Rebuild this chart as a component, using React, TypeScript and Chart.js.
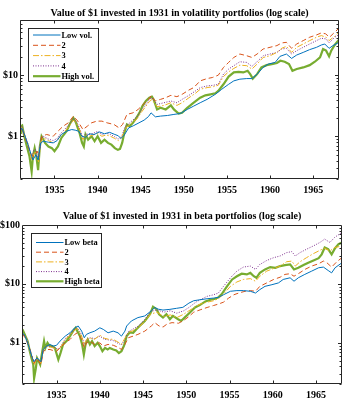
import React, { useEffect, useRef } from 'react';
import { Chart, registerables } from 'chart.js';

Chart.register(...registerables);

// ---------- data ----------
const X_MIN = 1931;
const X_MAX = 1968;
const YEAR_TICKS = [1935, 1940, 1945, 1950, 1955, 1960, 1965];
const DOLLAR_TICKS = [1, 10, 100];
const VOL_Y_RANGE = [0.2, 80];
const BETA_Y_RANGE = [0.2, 100];

const VOL_TITLE = 'Value of $1 invested in 1931 in volatility portfolios (log scale)';
const BETA_TITLE = 'Value of $1 invested in 1931 in beta portfolios (log scale)';
const VOL_LABELS = ['Low vol.', '2', '3', '4', 'High vol.'];
const BETA_LABELS = ['Low beta', '2', '3', '4', 'High beta'];

type P = [number, number];

const volLow: P[] = [[1931.0,1.21],[1931.2,1.37],[1931.6,1.0],[1932.0,0.68],[1932.35,0.47],[1932.5,0.41],[1932.85,0.5],[1933.1,0.41],[1933.4,0.78],[1933.7,0.83],[1934.3,0.8],[1934.85,0.78],[1935.3,0.85],[1935.8,1.07],[1936.4,1.21],[1937.0,1.29],[1937.4,1.26],[1937.8,1.21],[1938.2,1.0],[1938.6,0.96],[1939.0,1.1],[1939.6,1.07],[1940.2,1.18],[1940.8,1.1],[1941.4,1.16],[1942.0,1.07],[1942.4,1.02],[1942.7,0.92],[1943.1,1.05],[1943.6,1.37],[1944.2,1.5],[1944.8,1.66],[1945.4,1.84],[1945.9,2.1],[1946.2,2.42],[1946.7,2.08],[1947.3,2.14],[1948.1,2.19],[1948.85,2.28],[1949.6,2.36],[1950.4,2.75],[1951.15,3.12],[1951.9,3.54],[1952.7,4.02],[1953.65,4.86],[1954.4,5.88],[1955.2,7.1],[1955.8,8.07],[1956.5,8.6],[1957.3,8.8],[1957.9,8.8],[1958.5,10.4],[1959.2,13.4],[1959.8,15.2],[1960.6,16.2],[1961.15,20.3],[1961.9,22.2],[1962.5,18.8],[1963.1,21.4],[1963.85,23.6],[1964.6,26.2],[1965.4,28.6],[1965.95,31.2],[1966.35,32.4],[1966.85,27.5],[1967.3,30.5],[1968.0,34.5]];

const vol2: P[] = [[1931.0,1.14],[1931.2,1.37],[1931.8,0.78],[1932.2,0.53],[1932.6,0.47],[1933.0,0.57],[1933.2,0.47],[1933.5,1.0],[1934.1,1.07],[1934.85,1.0],[1935.4,1.21],[1936.0,1.46],[1936.6,1.66],[1937.2,2.14],[1937.7,1.77],[1938.3,1.29],[1938.8,1.46],[1939.3,1.66],[1939.9,1.77],[1940.5,1.77],[1941.1,1.66],[1941.9,1.56],[1942.5,1.37],[1942.9,1.56],[1943.4,2.28],[1944.1,2.42],[1944.7,2.75],[1945.3,3.33],[1945.9,4.02],[1946.2,4.6],[1946.7,3.78],[1947.3,4.02],[1947.9,4.28],[1948.5,4.68],[1949.2,4.45],[1949.8,4.86],[1950.6,5.73],[1951.15,6.26],[1951.9,8.07],[1952.7,8.8],[1953.3,9.15],[1954.0,10.0],[1954.6,13.4],[1955.2,16.2],[1955.8,19.5],[1956.5,22.2],[1957.3,20.8],[1957.9,19.5],[1958.5,22.2],[1959.2,26.8],[1960.0,28.6],[1960.8,30.5],[1961.35,33.7],[1961.9,34.5],[1962.5,27.5],[1963.1,32.4],[1963.85,36.8],[1964.6,41.8],[1965.4,45.6],[1965.95,49.2],[1966.45,47.5],[1966.9,41.8],[1967.5,50.5],[1968.0,58.8]];

const vol3: P[] = [[1931.0,1.15],[1931.2,1.45],[1931.6,1.0],[1932.0,0.68],[1932.35,0.4],[1932.6,0.52],[1932.85,0.55],[1933.15,0.38],[1933.4,0.8],[1933.7,0.95],[1934.3,0.85],[1934.85,0.78],[1935.3,0.85],[1935.8,1.07],[1936.4,1.3],[1936.9,1.6],[1937.2,1.85],[1937.6,1.6],[1938.0,1.2],[1938.3,0.88],[1938.6,1.05],[1939.0,1.0],[1939.5,1.05],[1940.0,1.12],[1940.5,1.0],[1941.0,1.05],[1941.5,1.0],[1942.0,0.92],[1942.4,0.85],[1942.8,0.95],[1943.2,1.35],[1943.6,1.5],[1944.1,1.7],[1944.6,1.95],[1945.1,2.5],[1945.6,3.1],[1946.0,3.7],[1946.3,4.0],[1946.9,3.05],[1947.7,3.2],[1948.5,3.54],[1949.2,3.2],[1949.8,3.54],[1950.6,4.28],[1951.35,5.05],[1951.9,5.88],[1952.7,6.26],[1953.45,6.5],[1954.0,6.85],[1954.6,9.5],[1955.2,11.35],[1955.8,12.9],[1956.5,14.6],[1957.3,14.3],[1957.9,12.6],[1958.5,15.2],[1959.2,19.5],[1960.0,20.8],[1960.8,23.6],[1961.35,27.5],[1961.9,29.7],[1962.5,23.6],[1963.1,28.6],[1963.85,32.4],[1964.6,36.8],[1965.4,41.8],[1965.95,44.5],[1966.5,41.8],[1966.85,36.8],[1967.5,43.2],[1968.0,50.5]];

const vol4: P[] = [[1931.0,1.15],[1931.2,1.48],[1931.6,1.0],[1932.0,0.7],[1932.35,0.42],[1932.6,0.6],[1932.85,0.6],[1933.15,0.42],[1933.4,0.85],[1933.7,1.0],[1934.3,0.9],[1934.85,0.85],[1935.3,0.92],[1935.8,1.15],[1936.4,1.4],[1936.9,1.7],[1937.2,1.95],[1937.6,1.7],[1938.0,1.25],[1938.3,0.92],[1938.6,1.1],[1939.0,1.07],[1939.5,1.12],[1940.0,1.2],[1940.5,1.07],[1941.0,1.12],[1941.5,1.07],[1942.0,0.98],[1942.4,0.9],[1942.8,1.0],[1943.2,1.45],[1943.6,1.6],[1944.1,1.85],[1944.6,2.1],[1945.1,2.7],[1945.6,3.3],[1946.0,4.0],[1946.3,4.3],[1946.9,3.33],[1947.7,3.54],[1948.5,3.78],[1949.2,3.54],[1949.8,4.02],[1950.6,4.68],[1951.35,5.52],[1951.9,6.26],[1952.7,6.67],[1953.45,6.85],[1954.0,7.1],[1954.6,10.4],[1955.2,12.6],[1955.8,14.3],[1956.5,16.6],[1957.3,16.2],[1957.9,13.9],[1958.5,16.6],[1959.2,20.8],[1960.0,22.2],[1960.8,23.6],[1961.35,26.8],[1961.9,27.5],[1962.5,22.2],[1963.1,25.2],[1963.85,28.6],[1964.6,32.4],[1965.4,36.8],[1965.95,40.2],[1966.5,39.2],[1966.85,33.7],[1967.5,41.8],[1968.0,46.0]];

const volHigh: P[] = [[1931.0,1.14],[1931.1,1.46],[1931.25,1.5],[1931.5,1.0],[1931.8,0.68],[1932.1,0.47],[1932.35,0.265],[1932.5,0.47],[1932.7,0.64],[1932.9,0.47],[1933.1,0.28],[1933.3,0.68],[1933.5,1.0],[1933.9,0.78],[1934.3,0.68],[1934.7,0.64],[1935.0,0.57],[1935.4,0.68],[1935.8,0.94],[1936.4,1.21],[1936.85,1.66],[1937.2,2.0],[1937.5,1.66],[1937.9,1.14],[1938.2,0.78],[1938.4,0.68],[1938.6,1.07],[1938.9,0.88],[1939.3,1.0],[1939.65,0.83],[1940.0,1.0],[1940.4,0.78],[1940.8,0.88],[1941.2,0.78],[1941.6,0.73],[1942.0,0.64],[1942.35,0.6],[1942.6,0.62],[1942.85,0.78],[1943.1,1.14],[1943.4,1.56],[1943.7,1.46],[1944.1,1.66],[1944.5,2.0],[1944.85,2.42],[1945.2,3.12],[1945.6,3.78],[1946.0,4.28],[1946.3,4.45],[1946.5,4.02],[1946.9,2.75],[1947.3,2.93],[1947.9,2.75],[1948.5,3.2],[1948.85,2.75],[1949.4,2.36],[1949.8,2.42],[1950.4,2.93],[1951.15,3.54],[1951.9,4.28],[1952.5,4.68],[1953.1,4.86],[1953.65,5.05],[1954.0,5.52],[1954.6,7.1],[1955.2,9.5],[1955.8,11.1],[1956.35,11.35],[1956.9,11.1],[1957.4,11.8],[1957.7,10.4],[1958.0,8.8],[1958.5,10.4],[1959.0,13.4],[1959.6,14.6],[1960.2,15.2],[1960.8,15.8],[1961.2,17.2],[1961.7,16.6],[1962.2,15.2],[1962.6,11.8],[1963.1,12.6],[1963.85,13.4],[1964.6,14.6],[1965.2,16.6],[1965.8,19.5],[1966.15,26.8],[1966.5,25.2],[1966.85,20.3],[1967.1,25.2],[1967.5,31.2],[1968.0,38.2]];

const betaLow: P[] = [[1931.04,1.48],[1931.35,1.3],[1931.65,1.0],[1931.9,0.77],[1932.2,0.55],[1932.4,0.48],[1932.7,0.55],[1932.95,0.52],[1933.2,0.48],[1933.45,0.77],[1933.85,0.88],[1934.25,0.94],[1934.6,0.88],[1935.0,0.91],[1935.4,1.07],[1936.0,1.3],[1936.55,1.48],[1937.1,1.8],[1937.5,1.93],[1937.9,1.58],[1938.2,1.22],[1938.45,1.39],[1938.85,1.48],[1939.4,1.58],[1940.0,1.8],[1940.4,1.69],[1940.95,1.48],[1941.55,1.58],[1942.1,1.48],[1942.5,1.3],[1942.9,1.58],[1943.1,1.93],[1943.65,2.35],[1944.4,2.68],[1945.2,2.86],[1945.95,3.5],[1946.35,3.98],[1946.75,3.73],[1947.3,3.6],[1948.1,3.7],[1948.85,3.85],[1949.6,4.0],[1950.3,4.72],[1950.85,5.18],[1951.6,5.39],[1952.4,5.6],[1953.15,5.75],[1953.7,5.9],[1954.3,6.55],[1955.1,7.5],[1955.85,7.7],[1956.6,7.7],[1957.4,7.5],[1958.0,7.0],[1958.5,8.0],[1959.1,9.1],[1959.9,9.7],[1960.65,10.4],[1961.2,11.9],[1962.0,12.7],[1962.45,11.1],[1962.95,12.7],[1963.7,14.5],[1964.5,16.5],[1965.3,18.8],[1965.85,19.3],[1966.4,16.9],[1966.8,15.4],[1967.2,18.8],[1968.0,22.9]];

const beta2: P[] = [[1931.04,1.43],[1931.35,1.22],[1931.7,0.94],[1932.0,0.72],[1932.2,0.55],[1932.4,0.45],[1932.7,0.55],[1932.95,0.48],[1933.2,0.43],[1933.45,0.72],[1933.85,0.77],[1934.25,0.77],[1934.6,0.74],[1935.0,0.72],[1935.4,0.82],[1936.0,1.0],[1936.55,1.14],[1937.1,1.39],[1937.4,1.48],[1937.9,1.14],[1938.2,0.82],[1938.45,1.0],[1938.85,1.07],[1939.4,0.94],[1940.0,1.0],[1940.4,0.88],[1940.95,0.94],[1941.55,0.91],[1942.1,0.84],[1942.5,0.77],[1942.9,0.94],[1943.3,1.22],[1943.85,1.3],[1944.4,1.39],[1945.2,1.58],[1945.95,1.93],[1946.35,2.2],[1946.85,1.93],[1947.3,1.85],[1947.8,2.1],[1948.35,2.2],[1949.1,2.15],[1949.7,2.4],[1950.3,2.79],[1950.85,3.31],[1951.6,3.63],[1952.4,3.98],[1953.15,4.3],[1953.7,4.54],[1954.3,4.9],[1954.9,5.75],[1955.5,6.55],[1956.05,7.0],[1956.8,7.5],[1957.4,7.7],[1958.0,7.5],[1958.5,9.1],[1959.3,10.4],[1960.1,11.9],[1960.85,13.0],[1961.4,14.5],[1962.0,14.9],[1962.45,13.5],[1962.95,14.9],[1963.7,17.6],[1964.5,20.1],[1965.3,22.0],[1965.85,24.4],[1966.25,22.9],[1966.8,19.3],[1967.4,23.8],[1968.0,27.9]];

const beta3: P[] = [[1931.04,1.45],[1931.4,1.28],[1931.7,1.0],[1931.9,0.75],[1932.2,0.55],[1932.4,0.42],[1932.7,0.55],[1932.95,0.5],[1933.2,0.45],[1933.45,0.75],[1933.8,0.85],[1934.3,0.85],[1934.8,0.8],[1935.2,0.75],[1935.6,0.9],[1936.0,1.15],[1936.6,1.35],[1937.1,1.65],[1937.4,1.75],[1937.8,1.4],[1938.2,0.95],[1938.5,1.15],[1938.9,1.2],[1939.4,1.15],[1940.0,1.35],[1940.5,1.2],[1941.0,1.15],[1941.5,1.15],[1942.0,1.05],[1942.5,0.95],[1942.9,1.2],[1943.3,1.5],[1943.8,1.6],[1944.4,1.8],[1945.2,2.3],[1945.85,3.06],[1946.6,3.31],[1947.4,2.79],[1948.15,2.98],[1948.9,2.68],[1949.7,3.06],[1950.3,3.5],[1951.1,4.14],[1951.6,4.54],[1952.4,4.9],[1953.15,5.18],[1953.7,5.6],[1954.3,6.7],[1955.1,9.1],[1955.85,10.8],[1956.6,11.9],[1957.4,12.3],[1958.0,11.1],[1958.5,13.5],[1959.3,16.5],[1960.1,18.3],[1960.85,20.1],[1961.6,23.8],[1962.2,24.4],[1962.6,20.1],[1963.15,23.8],[1963.9,27.9],[1964.7,32.7],[1965.45,37.2],[1966.0,40.4],[1966.6,36.3],[1967.15,41.4],[1968.0,44.0]];

const beta4: P[] = [[1931.04,1.45],[1931.4,1.3],[1931.7,1.0],[1931.9,0.76],[1932.2,0.55],[1932.4,0.44],[1932.7,0.56],[1932.95,0.5],[1933.2,0.46],[1933.45,0.76],[1933.8,0.88],[1934.3,0.88],[1934.8,0.82],[1935.2,0.78],[1935.6,0.92],[1936.0,1.18],[1936.6,1.4],[1937.1,1.7],[1937.4,1.8],[1937.8,1.45],[1938.2,0.95],[1938.5,1.15],[1938.9,1.22],[1939.4,1.18],[1940.0,1.3],[1940.5,1.15],[1941.0,1.12],[1941.5,1.1],[1942.0,1.0],[1942.5,0.92],[1942.9,1.15],[1943.3,1.55],[1943.8,1.7],[1944.4,1.9],[1945.2,2.5],[1945.85,3.4],[1946.6,3.63],[1947.4,3.31],[1948.15,3.5],[1948.9,3.18],[1949.7,3.5],[1950.3,3.98],[1951.1,4.9],[1951.6,5.39],[1952.4,6.15],[1953.15,6.55],[1953.7,7.0],[1954.3,9.1],[1955.1,12.7],[1955.85,16.5],[1956.6,19.3],[1957.4,20.1],[1958.0,17.6],[1958.5,21.4],[1959.3,25.0],[1960.1,27.9],[1960.85,29.8],[1961.6,34.0],[1962.2,35.3],[1962.6,29.8],[1963.15,34.0],[1963.9,38.8],[1964.7,44.2],[1965.45,50.6],[1966.0,57.6],[1966.6,50.6],[1967.15,61.6],[1968.0,75.0]];

const betaHigh: P[] = [[1931.04,1.48],[1931.15,1.58],[1931.4,1.3],[1931.65,1.07],[1931.9,0.72],[1932.1,0.55],[1932.3,0.43],[1932.4,0.25],[1932.6,0.37],[1932.75,0.55],[1932.95,0.48],[1933.1,0.43],[1933.35,0.72],[1933.55,1.07],[1933.7,0.82],[1933.95,1.0],[1934.2,0.88],[1934.5,0.88],[1934.8,0.82],[1935.2,0.52],[1935.45,0.67],[1935.75,0.94],[1936.15,1.07],[1936.55,1.3],[1936.9,1.58],[1937.2,1.8],[1937.4,1.58],[1937.7,1.3],[1937.95,0.94],[1938.15,0.63],[1938.35,0.94],[1938.6,1.14],[1938.85,0.94],[1939.1,1.07],[1939.4,0.88],[1939.75,1.0],[1940.0,0.88],[1940.3,0.72],[1940.6,0.82],[1940.9,0.77],[1941.15,0.82],[1941.55,0.77],[1941.9,0.74],[1942.2,0.67],[1942.5,0.72],[1942.8,0.9],[1943.1,1.3],[1943.45,1.5],[1943.85,1.48],[1944.2,1.69],[1944.6,1.93],[1945.2,2.35],[1945.8,3.06],[1946.15,4.1],[1946.55,3.73],[1946.85,3.06],[1947.3,2.68],[1947.7,3.06],[1948.1,2.51],[1948.45,2.86],[1949.05,2.51],[1949.4,2.35],[1949.8,2.68],[1950.45,3.31],[1951.0,3.98],[1951.6,4.42],[1952.2,5.04],[1952.8,5.39],[1953.35,5.6],[1953.7,5.9],[1954.1,6.7],[1954.7,9.1],[1955.3,11.9],[1955.85,13.5],[1956.4,14.9],[1957.0,14.5],[1957.4,15.4],[1957.8,13.5],[1958.1,12.7],[1958.5,15.4],[1959.1,17.6],[1959.7,19.3],[1960.3,18.8],[1960.85,20.1],[1961.4,20.9],[1962.0,21.4],[1962.45,17.6],[1962.95,18.8],[1963.55,20.9],[1964.1,22.9],[1964.7,25.0],[1965.3,27.3],[1965.65,31.8],[1966.0,41.4],[1966.4,38.8],[1966.8,31.8],[1967.2,40.4],[1967.6,47.3],[1968.0,50.6]];

// ---------- styles ----------
const FONT = "'Liberation Serif', 'Times New Roman', serif";
const INK = '#262626';
const COLORS = ['#0072BD', '#D95319', '#EDB120', '#7E2F8E', '#77AC30'];
const DASHES: number[][] = [[], [5, 3], [6, 2, 1.5, 2], [1, 1.5], []];
const WIDTHS = [1, 1, 1, 1, 2.2];

const titlePlugin = {
  id: 'panelTitle',
  afterDraw(chart: any, _a: any, opts: any) {
    const { ctx, chartArea } = chart;
    ctx.save();
    ctx.font = `bold ${opts.size}px ${FONT}`;
    ctx.fillStyle = '#000';
    ctx.textAlign = 'center';
    ctx.textBaseline = 'middle';
    ctx.fillText(opts.text, (chartArea.left + chartArea.right) / 2, opts.y);
    ctx.restore();
  },
};

const framePlugin = {
  id: 'frameTicks',
  afterDatasetsDraw(chart: any) {
    const { ctx, chartArea: a, scales } = chart;
    const xs = scales.x;
    const ys = scales.y;
    const L = a.left + 0.5, R = a.right - 0.5, T = a.top + 0.5, B = a.bottom - 0.5;
    ctx.save();
    ctx.strokeStyle = INK;
    ctx.lineWidth = 1;
    ctx.setLineDash([]);
    ctx.beginPath();
    ctx.rect(L, T, R - L, B - T);
    for (const v of YEAR_TICKS) {
      const px = Math.round(xs.getPixelForValue(v)) + 0.5;
      ctx.moveTo(px, B); ctx.lineTo(px, B - 3);
      ctx.moveTo(px, T); ctx.lineTo(px, T + 3);
    }
    const lo = ys.min, hi = ys.max;
    for (const d of [0.1, 1, 10]) {
      for (let k = 1; k <= 9; k++) {
        const v = k * d;
        if (v < lo || v > hi) continue;
        const py = Math.round(ys.getPixelForValue(v)) + 0.5;
        const len = k === 1 ? 3.5 : 2;
        ctx.moveTo(L, py); ctx.lineTo(L + len, py);
        ctx.moveTo(R, py); ctx.lineTo(R - len, py);
      }
    }
    ctx.stroke();
    ctx.restore();
  },
};

const legendPlugin = {
  id: 'boxLegend',
  afterDraw(chart: any, _a: any, o: any) {
    const { ctx, chartArea: a } = chart;
    const x0 = Math.round(a.left + o.dx) + 0.5;
    const y0 = Math.round(a.top + o.dy) + 0.5;
    ctx.save();
    ctx.fillStyle = '#fff';
    ctx.fillRect(x0, y0, o.w, o.h);
    ctx.strokeStyle = INK;
    ctx.lineWidth = 1;
    ctx.setLineDash([]);
    ctx.strokeRect(x0, y0, o.w, o.h);
    chart.data.datasets.forEach((ds: any, i: number) => {
      const yy = y0 + o.first + i * o.gap;
      ctx.strokeStyle = ds.borderColor;
      ctx.lineWidth = ds.borderWidth;
      ctx.setLineDash(ds.borderDash || []);
      ctx.beginPath();
      ctx.moveTo(x0 + o.l0, yy);
      ctx.lineTo(x0 + o.l1, yy);
      ctx.stroke();
      ctx.setLineDash([]);
      ctx.fillStyle = '#000';
      ctx.font = `bold ${o.size}px ${FONT}`;
      ctx.textAlign = 'left';
      ctx.textBaseline = 'middle';
      ctx.fillText(ds.label, x0 + o.tx, yy + 0.5);
    });
    ctx.restore();
  },
};

function makeConfig(series: P[][], labels: string[], yRange: number[], lay: any): any {
  const datasets = series.map((s, i) => ({
    label: labels[i],
    data: s.map(([x, y]) => ({ x, y })),
    borderColor: COLORS[i],
    borderWidth: WIDTHS[i],
    borderDash: DASHES[i],
    pointRadius: 0,
    tension: 0,
    fill: false,
  }));
  return {
    type: 'line',
    data: { datasets },
    plugins: [framePlugin, legendPlugin, titlePlugin],
    options: {
      responsive: false,
      animation: false,
      events: [],
      layout: { padding: { top: lay.top, right: lay.right, left: 0, bottom: 0 } },
      plugins: {
        legend: { display: false },
        tooltip: { enabled: false },
        title: { display: false },
        panelTitle: { text: lay.title, y: lay.titleY, size: 10 },
        boxLegend: lay.legend,
      },
      scales: {
        x: {
          type: 'linear',
          min: X_MIN,
          max: X_MAX,
          grid: { display: false, drawTicks: false },
          border: { display: false },
          ticks: {
            padding: 5,
            color: '#000',
            font: { family: FONT, size: 10, weight: 'bold' },
            maxRotation: 0,
            autoSkip: false,
            callback: (v: number) => String(v),
          },
          afterBuildTicks: (s: any) => { s.ticks = YEAR_TICKS.map((value) => ({ value })); },
          afterFit: (s: any) => { s.height = lay.xh; },
        },
        y: {
          type: 'logarithmic',
          min: yRange[0],
          max: yRange[1],
          grid: { display: false, drawTicks: false },
          border: { display: false },
          ticks: {
            padding: 2,
            color: '#000',
            font: { family: FONT, size: 10, weight: 'bold' },
            autoSkip: false,
            callback: (v: number) => '$' + v,
          },
          afterBuildTicks: (s: any) => {
            s.ticks = DOLLAR_TICKS.filter((v) => v >= yRange[0] && v <= yRange[1]).map((value) => ({ value }));
          },
          afterFit: (s: any) => { s.width = lay.yw; },
        },
      },
    },
  };
}

function Panel({ width, height, top, config }: { width: number; height: number; top: number; config: any }) {
  const ref = useRef<HTMLCanvasElement | null>(null);
  useEffect(() => {
    if (!ref.current) return;
    const chart = new Chart(ref.current, config);
    return () => chart.destroy();
  }, [config]);
  return (
    <canvas
      ref={ref}
      width={width}
      height={height}
      style={{ position: 'absolute', left: 0, top, width, height, display: 'block' }}
    />
  );
}

const volConfig = makeConfig([volLow, vol2, vol3, vol4, volHigh], VOL_LABELS, VOL_Y_RANGE, {
  top: 20, right: 18, yw: 20, xh: 21, title: VOL_TITLE, titleY: 13,
  legend: { dx: 8, dy: 8, w: 70, h: 53, first: 6.5, gap: 10.3, l0: 4.5, l1: 32, tx: 33, size: 8.4 },
});

const betaConfig = makeConfig([betaLow, beta2, beta3, beta4, betaHigh], BETA_LABELS, BETA_Y_RANGE, {
  top: 25, right: 15, yw: 22, xh: 20, title: BETA_TITLE, titleY: 16.7,
  legend: { dx: 8.5, dy: 8.3, w: 70, h: 54, first: 9, gap: 9.7, l0: 4.5, l1: 32, tx: 33, size: 8.4 },
});

export default function App() {
  return (
    <div style={{ position: 'absolute', left: 0, top: 0, width: 357, height: 404, background: '#fff' }}>
      <Panel width={357} height={200} top={0} config={volConfig} />
      <Panel width={357} height={204} top={200} config={betaConfig} />
    </div>
  );
}
